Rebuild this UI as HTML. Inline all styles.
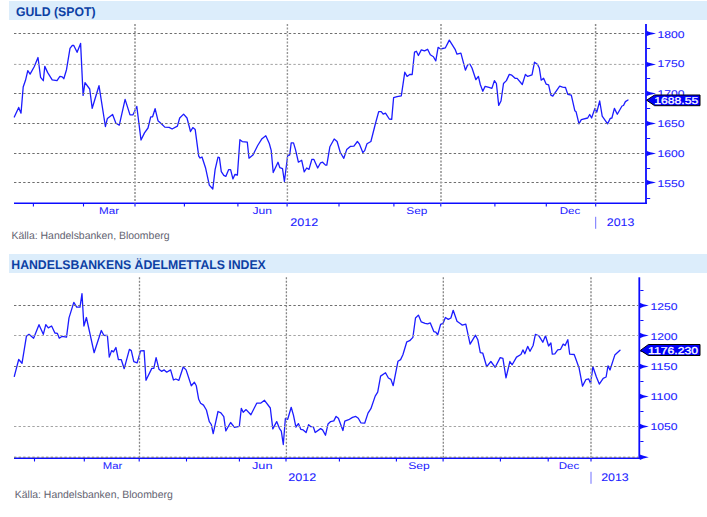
<!DOCTYPE html>
<html><head><meta charset="utf-8"><style>
html,body{margin:0;padding:0;background:#fff;width:707px;height:517px;overflow:hidden}
svg{display:block}
</style></head><body>
<svg width="707" height="517" viewBox="0 0 707 517">
<rect width="707" height="517" fill="#fff"/>
<rect x="9" y="1" width="698" height="19" fill="#dcedfb"/>
<text text-rendering="geometricPrecision" x="16" y="15.75" font-family="'Liberation Sans', sans-serif" font-size="12.6" fill="#0c40a4" textLength="79.5" lengthAdjust="spacingAndGlyphs" font-weight="bold">GULD (SPOT)</text>
<line x1="14" y1="203.3" x2="647" y2="203.3" stroke="#0c0cff" stroke-width="1.4"/>
<line x1="33.4" y1="203.3" x2="33.4" y2="206.5" stroke="#0c0cff" stroke-width="1.1"/>
<line x1="83.5" y1="203.3" x2="83.5" y2="206.5" stroke="#0c0cff" stroke-width="1.1"/>
<line x1="135" y1="203.3" x2="135" y2="206.5" stroke="#0c0cff" stroke-width="1.1"/>
<line x1="184.4" y1="203.3" x2="184.4" y2="206.5" stroke="#0c0cff" stroke-width="1.1"/>
<line x1="237.9" y1="203.3" x2="237.9" y2="206.5" stroke="#0c0cff" stroke-width="1.1"/>
<line x1="287.1" y1="203.3" x2="287.1" y2="206.5" stroke="#0c0cff" stroke-width="1.1"/>
<line x1="339" y1="203.3" x2="339" y2="206.5" stroke="#0c0cff" stroke-width="1.1"/>
<line x1="393.9" y1="203.3" x2="393.9" y2="206.5" stroke="#0c0cff" stroke-width="1.1"/>
<line x1="440.8" y1="203.3" x2="440.8" y2="206.5" stroke="#0c0cff" stroke-width="1.1"/>
<line x1="494.9" y1="203.3" x2="494.9" y2="206.5" stroke="#0c0cff" stroke-width="1.1"/>
<line x1="546.3" y1="203.3" x2="546.3" y2="206.5" stroke="#0c0cff" stroke-width="1.1"/>
<line x1="595.7" y1="203.3" x2="595.7" y2="206.5" stroke="#0c0cff" stroke-width="1.1"/>
<line x1="646" y1="24" x2="646" y2="204.0" stroke="#0c0cff" stroke-width="1.8"/>
<path d="M646.5 30.8 Q649.2 32.2 656 33.5 Q649.2 34.8 646.5 36.2 Z" fill="#0c0cff"/>
<path d="M646.5 61.7 Q649.2 63.10000000000001 656 64.4 Q649.2 65.7 646.5 67.10000000000001 Z" fill="#0c0cff"/>
<path d="M646.5 90.8 Q649.2 92.2 656 93.5 Q649.2 94.8 646.5 96.2 Z" fill="#0c0cff"/>
<path d="M646.5 120.8 Q649.2 122.2 656 123.5 Q649.2 124.8 646.5 126.2 Z" fill="#0c0cff"/>
<path d="M646.5 150.8 Q649.2 152.2 656 153.5 Q649.2 154.8 646.5 156.2 Z" fill="#0c0cff"/>
<path d="M646.5 179.8 Q649.2 181.2 656 182.5 Q649.2 183.8 646.5 185.2 Z" fill="#0c0cff"/>
<line x1="647" y1="48.5" x2="650.2" y2="48.5" stroke="#0c0cff" stroke-width="1"/>
<line x1="647" y1="78.5" x2="650.2" y2="78.5" stroke="#0c0cff" stroke-width="1"/>
<line x1="647" y1="108.5" x2="650.2" y2="108.5" stroke="#0c0cff" stroke-width="1"/>
<line x1="647" y1="138.5" x2="650.2" y2="138.5" stroke="#0c0cff" stroke-width="1"/>
<line x1="647" y1="168.5" x2="650.2" y2="168.5" stroke="#0c0cff" stroke-width="1"/>
<line x1="647" y1="198.5" x2="650.2" y2="198.5" stroke="#0c0cff" stroke-width="1"/>
<text text-rendering="geometricPrecision" x="657.5" y="37.9" font-family="'Liberation Sans', sans-serif" font-size="9.8" fill="#2020ff" textLength="27" lengthAdjust="spacingAndGlyphs" stroke="#2020ff" stroke-width="0.08">1800</text>
<text text-rendering="geometricPrecision" x="657.5" y="67.1" font-family="'Liberation Sans', sans-serif" font-size="9.8" fill="#2020ff" textLength="27" lengthAdjust="spacingAndGlyphs" stroke="#2020ff" stroke-width="0.08">1750</text>
<text text-rendering="geometricPrecision" x="657.5" y="97.2" font-family="'Liberation Sans', sans-serif" font-size="9.8" fill="#2020ff" textLength="27" lengthAdjust="spacingAndGlyphs" stroke="#2020ff" stroke-width="0.08">1700</text>
<text text-rendering="geometricPrecision" x="657.5" y="127.2" font-family="'Liberation Sans', sans-serif" font-size="9.8" fill="#2020ff" textLength="27" lengthAdjust="spacingAndGlyphs" stroke="#2020ff" stroke-width="0.08">1650</text>
<text text-rendering="geometricPrecision" x="657.5" y="157.2" font-family="'Liberation Sans', sans-serif" font-size="9.8" fill="#2020ff" textLength="27" lengthAdjust="spacingAndGlyphs" stroke="#2020ff" stroke-width="0.08">1600</text>
<text text-rendering="geometricPrecision" x="657.5" y="187.1" font-family="'Liberation Sans', sans-serif" font-size="9.8" fill="#2020ff" textLength="27" lengthAdjust="spacingAndGlyphs" stroke="#2020ff" stroke-width="0.08">1550</text>
<text text-rendering="geometricPrecision" x="99" y="213.8" font-family="'Liberation Sans', sans-serif" font-size="9.8" fill="#2020ff" textLength="20" lengthAdjust="spacingAndGlyphs" >Mar</text>
<text text-rendering="geometricPrecision" x="252.5" y="213.8" font-family="'Liberation Sans', sans-serif" font-size="9.8" fill="#2020ff" textLength="19.5" lengthAdjust="spacingAndGlyphs" >Jun</text>
<text text-rendering="geometricPrecision" x="406.3" y="213.8" font-family="'Liberation Sans', sans-serif" font-size="9.8" fill="#2020ff" textLength="21" lengthAdjust="spacingAndGlyphs" >Sep</text>
<text text-rendering="geometricPrecision" x="559.7" y="213.8" font-family="'Liberation Sans', sans-serif" font-size="9.8" fill="#2020ff" textLength="20.6" lengthAdjust="spacingAndGlyphs" >Dec</text>
<text text-rendering="geometricPrecision" x="290.3" y="225.9" font-family="'Liberation Sans', sans-serif" font-size="11" fill="#2020ff" textLength="28" lengthAdjust="spacingAndGlyphs" stroke="#2020ff" stroke-width="0.06">2012</text>
<line x1="595.7" y1="216.8" x2="595.7" y2="228.8" stroke="#7070ff" stroke-width="1"/>
<text text-rendering="geometricPrecision" x="606.8" y="225.9" font-family="'Liberation Sans', sans-serif" font-size="11" fill="#2020ff" textLength="27.5" lengthAdjust="spacingAndGlyphs" stroke="#2020ff" stroke-width="0.06">2013</text>
<path d="M14.3 117.0 L18.7 107.4 L21.0 113.2 L23.2 87.0 L25.5 80.3 L27.8 70.6 L30.1 74.1 L34.2 66.8 L38.0 57.5 L40.6 77.4 L43.3 80.7 L44.8 66.4 L47.7 72.6 L52.2 79.9 L57.0 80.7 L59.9 76.4 L62.2 76.8 L63.8 78.7 L66.5 69.7 L70.0 48.4 L72.3 45.3 L73.8 45.5 L77.1 52.3 L80.6 43.4 L83.1 95.4 L85.0 82.6 L89.7 89.0 L92.2 108.3 L99.0 85.7 L105.4 126.5 L107.4 118.4 L112.6 114.5 L115.9 123.2 L119.3 125.1 L125.1 99.4 L130.0 114.9 L132.9 114.9 L136.8 106.4 L141.0 140.0 L144.5 132.9 L148.0 128.0 L150.7 116.8 L152.6 116.8 L155.1 108.7 L158.0 120.7 L161.9 124.2 L164.8 127.1 L169.2 127.4 L172.1 129.0 L177.4 126.1 L179.7 118.0 L183.6 114.1 L187.0 118.0 L190.5 131.5 L192.8 127.6 L195.2 129.6 L198.7 156.1 L200.1 158.0 L202.0 157.0 L205.5 167.7 L209.3 185.1 L212.8 189.0 L215.1 169.6 L218.0 157.1 L219.4 157.6 L221.3 171.6 L223.8 175.4 L225.8 176.4 L228.7 169.6 L230.6 169.6 L232.9 178.9 L234.9 174.5 L237.4 175.0 L239.9 139.7 L242.2 141.6 L247.3 142.2 L249.0 158.2 L252.9 155.1 L257.7 145.5 L262.0 138.7 L265.8 135.8 L269.3 143.5 L271.2 150.3 L273.2 172.5 L278.0 162.3 L279.9 167.7 L282.5 168.7 L284.4 181.5 L287.7 155.4 L289.7 155.0 L291.2 142.9 L293.5 142.9 L295.5 149.6 L298.4 162.2 L301.7 160.3 L304.2 171.9 L306.7 168.0 L309.0 169.4 L311.9 159.3 L313.8 159.3 L317.7 168.0 L320.6 162.8 L322.6 162.2 L325.5 165.1 L326.8 165.1 L329.9 146.7 L334.2 139.0 L337.1 141.5 L340.3 152.5 L343.8 158.3 L346.7 149.6 L350.6 146.3 L353.9 146.2 L357.4 141.5 L359.3 143.8 L362.8 152.5 L364.7 150.6 L367.0 143.8 L370.9 141.5 L375.2 124.5 L378.7 111.6 L381.2 111.6 L383.2 114.1 L385.5 113.2 L389.3 119.0 L391.7 119.4 L393.6 97.7 L397.1 96.7 L401.3 95.8 L404.8 72.2 L407.1 76.4 L409.7 74.5 L412.2 74.5 L414.5 52.2 L416.4 51.3 L418.4 55.5 L421.3 49.9 L424.5 50.9 L427.6 49.3 L430.3 54.8 L433.4 56.7 L435.8 60.9 L438.1 47.4 L440.6 49.0 L445.4 47.8 L449.3 40.1 L455.1 49.3 L457.0 54.2 L460.9 53.2 L465.4 70.2 L467.7 64.8 L470.0 64.2 L472.0 68.0 L475.9 79.7 L478.4 76.4 L480.3 84.5 L482.8 91.3 L485.1 86.4 L489.0 87.4 L491.9 88.4 L494.4 80.6 L496.4 83.5 L498.7 105.4 L501.0 101.0 L503.5 83.5 L506.4 80.6 L509.3 74.4 L511.8 75.2 L515.1 78.3 L517.1 78.3 L522.3 84.5 L525.4 74.4 L527.7 76.4 L532.0 74.8 L534.5 62.2 L537.4 64.2 L539.3 68.0 L541.2 80.2 L543.6 78.3 L546.1 84.1 L548.6 84.9 L550.9 95.1 L552.8 96.1 L553.9 94.4 L559.7 86.1 L562.6 87.1 L565.5 87.5 L567.8 94.4 L571.3 95.2 L574.8 110.7 L576.1 111.8 L579.0 123.8 L581.3 119.6 L587.7 118.0 L589.7 114.5 L591.6 118.0 L594.9 108.4 L596.8 112.2 L599.7 101.0 L602.2 116.1 L607.6 123.8 L610.3 118.4 L611.9 118.0 L614.4 108.4 L617.3 114.2 L622.0 106.0 L623.5 105.5 L625.4 101.6 L628.0 100.0" fill="none" stroke="#1c1cff" stroke-width="1.3" stroke-linejoin="round" stroke-linecap="round"/>
<line x1="14" y1="33.5" x2="645" y2="33.5" stroke="#6e6e6e" stroke-width="1" stroke-dasharray="2.4 2.18"/>
<line x1="14" y1="64.4" x2="645" y2="64.4" stroke="#a4a4a4" stroke-width="1" stroke-dasharray="2.4 2.18"/>
<line x1="14" y1="93.5" x2="645" y2="93.5" stroke="#6e6e6e" stroke-width="1" stroke-dasharray="2.4 2.18"/>
<line x1="14" y1="123.5" x2="645" y2="123.5" stroke="#6e6e6e" stroke-width="1" stroke-dasharray="2.4 2.18"/>
<line x1="14" y1="153.5" x2="645" y2="153.5" stroke="#6e6e6e" stroke-width="1" stroke-dasharray="2.4 2.18"/>
<line x1="14" y1="182.5" x2="645" y2="182.5" stroke="#6e6e6e" stroke-width="1" stroke-dasharray="2.4 2.18"/>
<line x1="135" y1="24" x2="135" y2="203.3" stroke="#a6a6a6" stroke-width="1.9" stroke-dasharray="2 1.5"/>
<line x1="287.4" y1="24" x2="287.4" y2="203.3" stroke="#959595" stroke-width="1.4" stroke-dasharray="2 1.5"/>
<line x1="441" y1="24" x2="441" y2="203.3" stroke="#a6a6a6" stroke-width="1.9" stroke-dasharray="2 1.5"/>
<line x1="595.6" y1="24" x2="595.6" y2="203.3" stroke="#8a8a8a" stroke-width="1.5" stroke-dasharray="2 1.5"/>
<path d="M646.6 100.2 L654.6 95 L700 95 L700 105.7 L654.6 105.7 Z" fill="#0000f8" stroke="#000" stroke-width="1"/>
<text text-rendering="geometricPrecision" x="654.3000000000001" y="104.4" font-family="'Liberation Sans', sans-serif" font-size="10" fill="#fff" textLength="44" lengthAdjust="spacingAndGlyphs" stroke="#fff" stroke-width="0.3">1688.55</text>
<text text-rendering="geometricPrecision" x="11.5" y="239.4" font-family="'Liberation Sans', sans-serif" font-size="10.5" fill="#626270" textLength="158" lengthAdjust="spacingAndGlyphs" >Källa: Handelsbanken, Bloomberg</text>
<rect x="9" y="254" width="698" height="19" fill="#dcedfb"/>
<text text-rendering="geometricPrecision" x="11.3" y="268.75" font-family="'Liberation Sans', sans-serif" font-size="12.6" fill="#0c40a4" textLength="254.5" lengthAdjust="spacingAndGlyphs" font-weight="bold">HANDELSBANKENS ÄDELMETTALS INDEX</text>
<line x1="14" y1="458.3" x2="640.3" y2="458.3" stroke="#0c0cff" stroke-width="1.4"/>
<line x1="34.5" y1="458.3" x2="34.5" y2="461.5" stroke="#0c0cff" stroke-width="1.1"/>
<line x1="84.3" y1="458.3" x2="84.3" y2="461.5" stroke="#0c0cff" stroke-width="1.1"/>
<line x1="139.2" y1="458.3" x2="139.2" y2="461.5" stroke="#0c0cff" stroke-width="1.1"/>
<line x1="186.5" y1="458.3" x2="186.5" y2="461.5" stroke="#0c0cff" stroke-width="1.1"/>
<line x1="239.4" y1="458.3" x2="239.4" y2="461.5" stroke="#0c0cff" stroke-width="1.1"/>
<line x1="286" y1="458.3" x2="286" y2="461.5" stroke="#0c0cff" stroke-width="1.1"/>
<line x1="339.4" y1="458.3" x2="339.4" y2="461.5" stroke="#0c0cff" stroke-width="1.1"/>
<line x1="396.4" y1="458.3" x2="396.4" y2="461.5" stroke="#0c0cff" stroke-width="1.1"/>
<line x1="443.1" y1="458.3" x2="443.1" y2="461.5" stroke="#0c0cff" stroke-width="1.1"/>
<line x1="500.4" y1="458.3" x2="500.4" y2="461.5" stroke="#0c0cff" stroke-width="1.1"/>
<line x1="548.2" y1="458.3" x2="548.2" y2="461.5" stroke="#0c0cff" stroke-width="1.1"/>
<line x1="591" y1="458.3" x2="591" y2="461.5" stroke="#0c0cff" stroke-width="1.1"/>
<line x1="639.3" y1="277.3" x2="639.3" y2="459.0" stroke="#0c0cff" stroke-width="1.8"/>
<path d="M639.8 302.8 Q642.5 304.2 648.8 305.5 Q642.5 306.8 639.8 308.2 Z" fill="#0c0cff"/>
<path d="M639.8 332.8 Q642.5 334.2 648.8 335.5 Q642.5 336.8 639.8 338.2 Z" fill="#0c0cff"/>
<path d="M639.8 363.8 Q642.5 365.2 648.8 366.5 Q642.5 367.8 639.8 369.2 Z" fill="#0c0cff"/>
<path d="M639.8 393.8 Q642.5 395.2 648.8 396.5 Q642.5 397.8 639.8 399.2 Z" fill="#0c0cff"/>
<path d="M639.8 423.8 Q642.5 425.2 648.8 426.5 Q642.5 427.8 639.8 429.2 Z" fill="#0c0cff"/>
<path d="M639.8 454.5 Q642.5 455.9 648.8 457.2 Q642.5 458.5 639.8 459.9 Z" fill="#0c0cff"/>
<line x1="640.3" y1="290.5" x2="643.5" y2="290.5" stroke="#0c0cff" stroke-width="1"/>
<line x1="640.3" y1="320.5" x2="643.5" y2="320.5" stroke="#0c0cff" stroke-width="1"/>
<line x1="640.3" y1="351.5" x2="643.5" y2="351.5" stroke="#0c0cff" stroke-width="1"/>
<line x1="640.3" y1="381.5" x2="643.5" y2="381.5" stroke="#0c0cff" stroke-width="1"/>
<line x1="640.3" y1="411.5" x2="643.5" y2="411.5" stroke="#0c0cff" stroke-width="1"/>
<line x1="640.3" y1="441.5" x2="643.5" y2="441.5" stroke="#0c0cff" stroke-width="1"/>
<text text-rendering="geometricPrecision" x="650.5" y="309.7" font-family="'Liberation Sans', sans-serif" font-size="9.8" fill="#2020ff" textLength="27" lengthAdjust="spacingAndGlyphs" stroke="#2020ff" stroke-width="0.08">1250</text>
<text text-rendering="geometricPrecision" x="650.5" y="339.8" font-family="'Liberation Sans', sans-serif" font-size="9.8" fill="#2020ff" textLength="27" lengthAdjust="spacingAndGlyphs" stroke="#2020ff" stroke-width="0.08">1200</text>
<text text-rendering="geometricPrecision" x="650.5" y="369.9" font-family="'Liberation Sans', sans-serif" font-size="9.8" fill="#2020ff" textLength="27" lengthAdjust="spacingAndGlyphs" stroke="#2020ff" stroke-width="0.08">1150</text>
<text text-rendering="geometricPrecision" x="650.5" y="400" font-family="'Liberation Sans', sans-serif" font-size="9.8" fill="#2020ff" textLength="27" lengthAdjust="spacingAndGlyphs" stroke="#2020ff" stroke-width="0.08">1100</text>
<text text-rendering="geometricPrecision" x="650.5" y="430.4" font-family="'Liberation Sans', sans-serif" font-size="9.8" fill="#2020ff" textLength="27" lengthAdjust="spacingAndGlyphs" stroke="#2020ff" stroke-width="0.08">1050</text>
<text text-rendering="geometricPrecision" x="102.8" y="468.8" font-family="'Liberation Sans', sans-serif" font-size="9.8" fill="#2020ff" textLength="19.5" lengthAdjust="spacingAndGlyphs" >Mar</text>
<text text-rendering="geometricPrecision" x="252" y="468.8" font-family="'Liberation Sans', sans-serif" font-size="9.8" fill="#2020ff" textLength="20.5" lengthAdjust="spacingAndGlyphs" >Jun</text>
<text text-rendering="geometricPrecision" x="408.3" y="468.8" font-family="'Liberation Sans', sans-serif" font-size="9.8" fill="#2020ff" textLength="21.5" lengthAdjust="spacingAndGlyphs" >Sep</text>
<text text-rendering="geometricPrecision" x="558.8" y="468.8" font-family="'Liberation Sans', sans-serif" font-size="9.8" fill="#2020ff" textLength="20.5" lengthAdjust="spacingAndGlyphs" >Dec</text>
<text text-rendering="geometricPrecision" x="288.2" y="480.90000000000003" font-family="'Liberation Sans', sans-serif" font-size="11" fill="#2020ff" textLength="28" lengthAdjust="spacingAndGlyphs" stroke="#2020ff" stroke-width="0.06">2012</text>
<line x1="591" y1="471.8" x2="591" y2="483.8" stroke="#7070ff" stroke-width="1"/>
<text text-rendering="geometricPrecision" x="601.2" y="480.90000000000003" font-family="'Liberation Sans', sans-serif" font-size="11" fill="#2020ff" textLength="27.5" lengthAdjust="spacingAndGlyphs" stroke="#2020ff" stroke-width="0.06">2013</text>
<path d="M14.3 376.3 L18.7 359.5 L22.0 363.3 L26.4 336.3 L29.0 334.3 L33.6 338.2 L39.0 324.7 L43.3 334.3 L45.8 324.7 L48.3 327.9 L51.6 326.0 L54.9 333.0 L57.4 333.4 L59.3 338.2 L62.2 336.3 L66.5 337.2 L69.0 317.9 L73.8 302.4 L76.7 307.2 L80.0 307.2 L82.0 293.7 L83.9 326.0 L86.4 317.5 L94.1 352.7 L101.3 330.5 L103.8 335.3 L107.4 335.5 L109.3 357.1 L111.6 350.6 L113.5 351.9 L115.9 347.5 L118.4 359.7 L121.3 359.7 L124.2 368.7 L129.4 349.4 L131.3 350.6 L133.8 361.6 L137.1 362.9 L140.6 350.9 L144.1 350.6 L146.0 380.3 L151.8 368.4 L153.8 368.4 L156.1 357.7 L159.0 369.3 L161.5 371.3 L164.2 369.9 L166.7 372.2 L170.6 369.9 L173.5 380.0 L175.8 379.0 L178.9 380.3 L183.2 367.0 L186.1 369.9 L191.3 385.8 L194.4 382.3 L196.3 385.8 L198.7 399.3 L200.6 403.2 L203.5 405.1 L206.4 410.0 L209.3 421.6 L211.3 424.5 L213.2 433.6 L218.0 411.5 L220.9 412.9 L223.8 416.7 L225.8 430.9 L230.6 422.5 L234.5 427.4 L239.3 426.4 L241.3 408.4 L243.2 412.3 L246.1 409.6 L250.9 414.8 L256.7 403.2 L260.6 403.2 L264.5 400.3 L270.3 408.0 L272.8 428.9 L276.7 421.6 L279.4 428.3 L281.3 431.2 L283.3 444.5 L285.4 418.3 L287.7 419.3 L291.2 407.3 L293.5 415.4 L295.9 427.0 L298.4 423.6 L300.9 429.4 L303.2 429.9 L306.1 432.5 L308.6 424.7 L310.9 426.7 L313.3 426.7 L315.2 432.5 L320.6 428.6 L322.6 429.9 L325.5 435.2 L328.0 424.1 L330.7 421.6 L333.8 420.9 L336.1 416.4 L338.4 418.3 L342.9 430.5 L344.8 421.2 L348.7 419.7 L352.5 417.4 L355.8 416.4 L358.3 418.3 L360.8 422.8 L364.7 423.2 L368.0 413.1 L370.9 408.7 L375.2 396.1 L377.7 392.2 L380.6 376.1 L385.5 372.8 L388.4 378.0 L390.9 379.4 L393.2 385.7 L398.0 361.2 L400.6 359.6 L402.9 354.8 L406.8 341.8 L409.7 340.7 L412.9 337.4 L415.5 318.0 L418.4 315.1 L421.3 321.9 L425.1 323.3 L427.6 323.8 L430.3 322.9 L433.8 331.6 L435.8 332.2 L437.7 334.9 L440.6 324.4 L443.1 323.3 L445.4 317.5 L448.3 319.4 L450.9 318.0 L453.2 310.3 L457.0 321.3 L460.5 323.8 L462.3 325.1 L465.8 324.2 L470.1 344.1 L475.5 335.2 L477.8 339.7 L480.3 352.6 L482.8 353.2 L486.7 366.7 L490.9 361.5 L495.2 367.3 L500.2 357.6 L502.9 358.4 L506.0 377.8 L509.9 361.5 L512.2 364.8 L516.5 357.1 L520.9 354.5 L522.9 349.9 L524.8 353.8 L527.7 346.4 L530.0 351.3 L533.1 345.5 L535.4 334.4 L538.9 335.8 L542.8 342.2 L545.5 335.8 L548.6 346.0 L550.9 342.9 L552.3 354.2 L554.8 353.8 L557.7 349.9 L560.6 349.3 L563.2 344.1 L565.1 345.5 L567.8 339.7 L569.7 354.2 L574.2 354.5 L579.0 367.7 L582.5 386.1 L585.8 379.7 L588.7 378.9 L590.6 383.6 L592.9 366.7 L596.4 377.0 L599.3 384.1 L603.2 378.3 L606.1 377.0 L608.0 365.8 L610.0 370.0 L614.8 355.1 L620.0 350.3" fill="none" stroke="#1c1cff" stroke-width="1.3" stroke-linejoin="round" stroke-linecap="round"/>
<line x1="14" y1="305.5" x2="638.3" y2="305.5" stroke="#6e6e6e" stroke-width="1" stroke-dasharray="2.4 2.18"/>
<line x1="14" y1="335.5" x2="638.3" y2="335.5" stroke="#a4a4a4" stroke-width="1" stroke-dasharray="2.4 2.18"/>
<line x1="14" y1="366.5" x2="638.3" y2="366.5" stroke="#6e6e6e" stroke-width="1" stroke-dasharray="2.4 2.18"/>
<line x1="14" y1="426.5" x2="638.3" y2="426.5" stroke="#a4a4a4" stroke-width="1" stroke-dasharray="2.4 2.18"/>
<line x1="14" y1="457.2" x2="638.3" y2="457.2" stroke="#6e6e6e" stroke-width="1" stroke-dasharray="2.4 2.18"/>
<line x1="139.5" y1="277.3" x2="139.5" y2="458.3" stroke="#858585" stroke-width="1.3" stroke-dasharray="2 1.5"/>
<line x1="286.4" y1="277.3" x2="286.4" y2="458.3" stroke="#858585" stroke-width="1.3" stroke-dasharray="2 1.5"/>
<line x1="443.3" y1="277.3" x2="443.3" y2="458.3" stroke="#858585" stroke-width="1.3" stroke-dasharray="2 1.5"/>
<line x1="591" y1="277.3" x2="591" y2="458.3" stroke="#a6a6a6" stroke-width="1.9" stroke-dasharray="2 1.5"/>
<path d="M640.4 350.4 L648.4 344.5 L700 344.5 L700 355.5 L648.4 355.5 Z" fill="#0000f8" stroke="#000" stroke-width="1"/>
<text text-rendering="geometricPrecision" x="648.1" y="354.2" font-family="'Liberation Sans', sans-serif" font-size="10" fill="#fff" textLength="50" lengthAdjust="spacingAndGlyphs" stroke="#fff" stroke-width="0.3">1176.230</text>
<text text-rendering="geometricPrecision" x="14.8" y="497.7" font-family="'Liberation Sans', sans-serif" font-size="10.5" fill="#626270" textLength="158" lengthAdjust="spacingAndGlyphs" >Källa: Handelsbanken, Bloomberg</text>
</svg>
</body></html>
